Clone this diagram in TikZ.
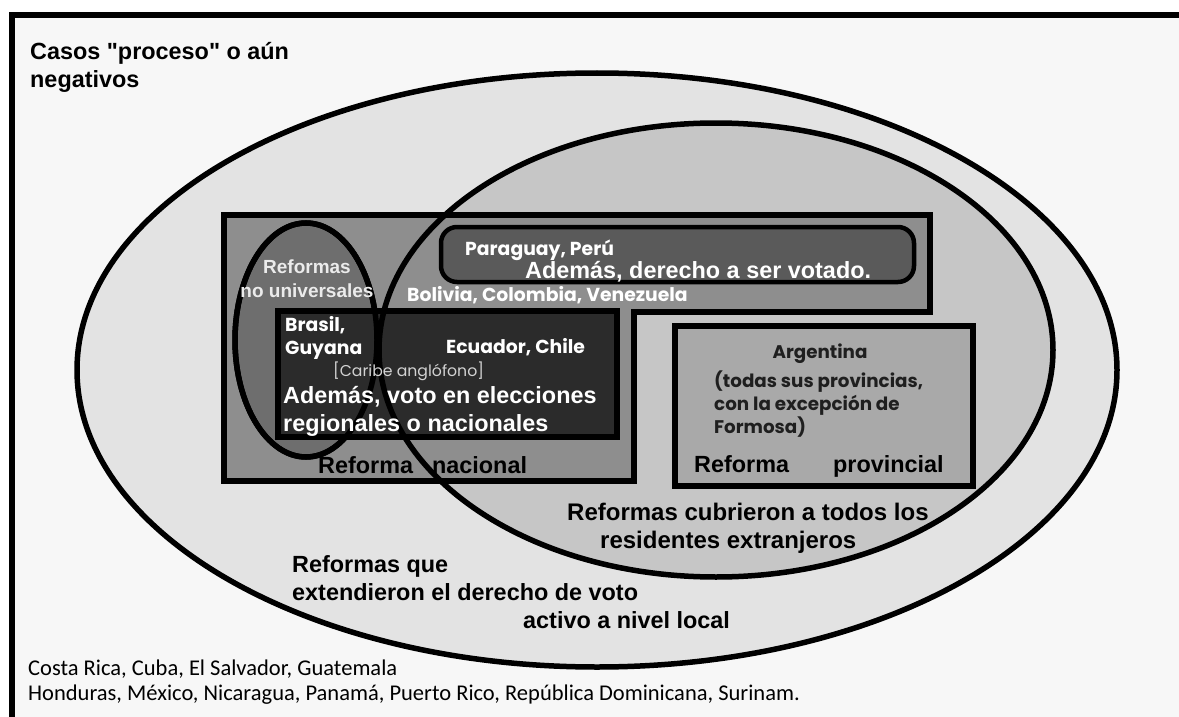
\documentclass[tikz,border=0pt]{standalone}
\usepackage{fontspec}
\newfontfamily\arialfont{Liberation Sans}
\newfontfamily\gothicfont{Poppins}
\newfontfamily\calfont{Carlito}
\usetikzlibrary{positioning}

\definecolor{paper}{HTML}{F7F7F7}
\definecolor{localfill}{HTML}{E3E3E3}
\definecolor{allresfill}{HTML}{C6C6C6}
\definecolor{natfill}{HTML}{8E8E8E}
\definecolor{partfill}{HTML}{6E6E6E}
\definecolor{pillfill}{HTML}{5A5A5A}
\definecolor{darkfill}{HTML}{2B2B2B}
\definecolor{provfill}{HTML}{A9A9A9}
\definecolor{palegray}{HTML}{D2D2D2}

\begin{document}
\begin{tikzpicture}[x=1pt, y=-1pt,
    rim/.style={line width=5.5pt, line join=miter},
    arialtxt/.style={font=\arialfont\fontsize{23.4}{28}\selectfont\bfseries, inner sep=0pt, align=left},
    gothtxt/.style={font=\gothicfont\fontsize{18.8}{23}\selectfont\bfseries, inner sep=0pt, text=white, align=left},
    provtxt/.style={font=\gothicfont\fontsize{18.3}{23}\selectfont\bfseries, inner sep=0pt, text=black!88, align=left},
    caltxt/.style={font=\calfont\fontsize{22.5}{25}\selectfont, inner sep=0pt, align=left}]
    \useasboundingbox (0,0) rectangle (1179,717);
    \fill[white] (0,0) rectangle (1179,717);
    \fill[paper] (12,15) rectangle (1179,717);
    \draw[line width=5.5pt] (12,717) -- (12,15) -- (1179,15);

    % nested sets
    \draw[rim, fill=localfill] (597,370) ellipse [x radius=520, y radius=297];
    \fill[allresfill] (716,350) ellipse [x radius=337, y radius=227];
    \draw[rim, fill=natfill] (224,215) -- (930,215) -- (930,312) -- (634,312)
      -- (634,481) -- (224,481) -- cycle;
    \draw[line width=4.5pt, fill=pillfill, rounded corners=16pt] (441,227) rectangle (914,282);
    \draw[rim, fill=partfill] (306,340) ellipse [x radius=71, y radius=117];
    \draw[rim, fill=darkfill] (278,311) rectangle (617,437);
    \draw[rim] (306,340) ellipse [x radius=71, y radius=117];
    \draw[rim, fill=provfill] (675,326) rectangle (973,486);
    \draw[rim] (716,350) ellipse [x radius=337, y radius=227];

    % labels (base = last line)
    \node[arialtxt, anchor=base west] (casos) at (30,88)
      {Casos "proceso" o aún\\negativos};
    \node[font=\arialfont\fontsize{19}{24}\selectfont\bfseries, text=white!92!black,
      inner sep=0pt, align=center, anchor=base] (nouniv) at (307,297)
      {Reformas\\no universales};
    \node[gothtxt, anchor=base west] (parag) at (465,255) {Paraguay, Perú};
    \node[arialtxt, text=white, anchor=base west] (serv) at (525,278)
      {Además, derecho a ser votado.};
    \node[gothtxt, anchor=base west] (boliv) at (407,301) {Bolivia, Colombia, Venezuela};
    \node[gothtxt, anchor=base west] (bras) at (285,354) {Brasil,\\Guyana};
    \node[gothtxt, anchor=base west] (ecua) at (446,353) {Ecuador, Chile};
    \node[font=\gothicfont\fontsize{15.7}{18}\selectfont, text=palegray,
      inner sep=0pt, anchor=base west] (carib) at (333,376) {[Caribe anglófono]};
    \node[arialtxt, text=white, anchor=base west] (regio) at (283,431)
      {Además, voto en elecciones\\regionales o nacionales};
    \node[arialtxt, anchor=base west] (nacio) at (318,473)
      {Reforma\hspace{19pt}nacional};
    \node[provtxt, anchor=base] (argen) at (820,358) {Argentina};
    \node[provtxt, anchor=base west] (provs) at (714,433)
      {(todas sus provincias,\\con la excepción de\\Formosa)};
    \node[arialtxt, anchor=base west] (provi) at (694,472)
      {Reforma\hspace{44pt}provincial};
    \node[arialtxt, font=\arialfont\fontsize{24}{28}\selectfont\bfseries, anchor=base west] (todos) at (567,548)
      {Reformas cubrieron a todos los\\\hspace*{33pt}residentes extranjeros};
    \node[arialtxt, anchor=base west] (activo) at (292,628)
      {Reformas que\\extendieron el derecho de voto\\\hspace*{231pt}activo a nivel local};
    \node[caltxt, anchor=base west] (neg) at (28,700)
      {Costa Rica, Cuba, El Salvador, Guatemala\\Honduras, México, Nicaragua, Panamá, Puerto Rico, República Dominicana, Surinam.};
\end{tikzpicture}
\end{document}
